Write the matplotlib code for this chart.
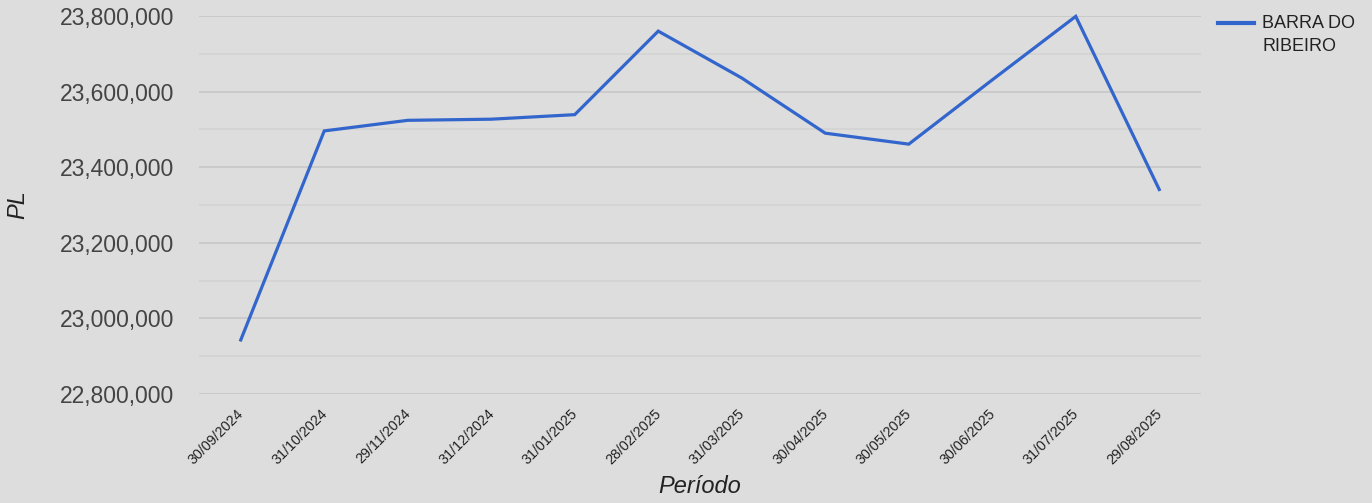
import matplotlib
matplotlib.use("Agg")
import matplotlib.pyplot as plt
from matplotlib.lines import Line2D
from matplotlib.transforms import ScaledTranslation
from matplotlib.ticker import FuncFormatter, MultipleLocator

plt.rcParams['font.family'] = ['Liberation Sans', 'DejaVu Sans']

dates = ["30/09/2024", "31/10/2024", "29/11/2024", "31/12/2024", "31/01/2025",
         "28/02/2025", "31/03/2025", "30/04/2025", "30/05/2025", "30/06/2025",
         "31/07/2025", "29/08/2025"]
pl_values = [22943000, 23496000, 23524000, 23527000, 23539000, 23760000,
             23636000, 23490000, 23461000, 23631000, 23799000, 23341000]
series_name = "BARRA DO\nRIBEIRO"

W, H = 1372, 503
bg = "#dddddd"
line_color = "#3366cc"
fig = plt.figure(figsize=(W/100, H/100), dpi=100, facecolor=bg)
ax = fig.add_axes([199/W, 1-394/H, (1201-199)/W, (394-16)/H])
ax.set_facecolor(bg)

x = list(range(len(dates)))
ax.plot(x, pl_values, color=line_color, lw=2.3, clip_on=False,
        solid_joinstyle='miter', zorder=3)

ax.set_xlim(-0.5, len(dates)-0.5)
ax.set_ylim(22800000, 23800000)
ax.yaxis.set_major_locator(MultipleLocator(200000))
ax.yaxis.set_minor_locator(MultipleLocator(100000))
ax.yaxis.set_major_formatter(FuncFormatter(lambda v, p: f"{int(round(v)):,}"))
ax.grid(True, which='major', axis='y', color="#c9c9c9", lw=1.3, zorder=0)
ax.grid(True, which='minor', axis='y', color="#d4d4d4", lw=1.3, zorder=0)
for s in ax.spines.values():
    s.set_visible(False)
ax.tick_params(axis='y', which='both', length=0, pad=18, labelsize=16.5, labelcolor="#444444")
ax.tick_params(axis='x', length=0, pad=9, labelsize=10.3, labelcolor="#222222")
ax.set_xticks(x)
ax.set_xticklabels(dates, rotation=45, ha='right', rotation_mode='anchor')
offset = ScaledTranslation(-3/72, 0, fig.dpi_scale_trans)
for lbl in ax.get_xticklabels():
    lbl.set_transform(lbl.get_transform() + offset)

ax.set_ylabel("PL", fontsize=17, style='italic', color="#222222", labelpad=22)
ax.set_xlabel("Período", fontsize=17, style='italic', color="#222222", labelpad=6)

# legend (handle aligned with first line, as in the reference)
fig.add_artist(Line2D([1218/W, 1254/W], [1-23/H, 1-23/H], color=line_color, lw=3))
fig.text(1262/W, 1-15/H, series_name, fontsize=13, color="#222222",
         ha='left', va='top', linespacing=1.45)

fig.savefig("out.png", dpi=100, facecolor=bg)
